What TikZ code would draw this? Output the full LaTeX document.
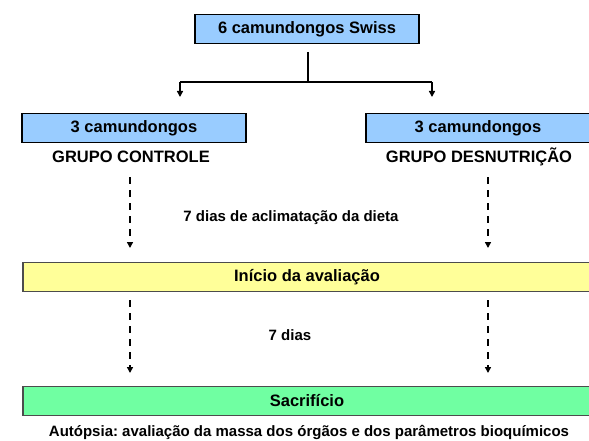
\documentclass[tikz,border=0pt]{standalone}
\usepackage{fontspec}
\setmainfont{Liberation Sans}
\usetikzlibrary{arrows.meta}
\definecolor{myblue}{RGB}{153,204,255}
\definecolor{myyellow}{RGB}{255,255,153}
\definecolor{mygreen}{RGB}{112,255,162}
\frenchspacing

\tikzset{
    box/.style={draw=black, line width=1.1pt, minimum height=29pt, inner sep=0pt,
        font=\fontsize{16.5}{20}\selectfont\bfseries},
    grouplabel/.style={anchor=center, color=black, font=\fontsize{16.5}{20}\selectfont\bfseries},
    note/.style={anchor=center, color=black, font=\fontsize{15}{18}\selectfont\bfseries},
    link/.style={line width=2pt},
    linkarrow/.style={line width=2pt, -{Triangle[length=6pt,width=6pt]}},
    dashlink/.style={line width=2pt, dash pattern=on 6.5pt off 6.5pt, -{Triangle[length=6pt,width=6pt]}},
}

\begin{document}
\begin{tikzpicture}[x=1pt, y=-1pt]
    \useasboundingbox (0,0) rectangle (589,441);

    % Top box
    \node[box, fill=myblue, minimum width=224pt] (mice) at (307, 29) {6 camundongos Swiss};

    % Split into the two groups
    \coordinate (stem) at (308, 52);
    \coordinate (split) at (308, 82);
    \coordinate (splitL) at (180, 82);
    \coordinate (splitR) at (432, 82);
    \coordinate (tipL) at (180, 97);
    \coordinate (tipR) at (432, 97);
    \draw[link] (stem) -- (split);
    \draw[link] (splitL) -- (splitR);
    \draw[linkarrow] (splitL) -- (tipL);
    \draw[linkarrow] (splitR) -- (tipR);

    % Groups
    \node[box, fill=myblue, minimum width=224pt] (ctrl) at (134, 128) {3 camundongos};
    \node[box, fill=myblue, minimum width=224pt] (desn) at (478, 128) {3 camundongos};
    \node[grouplabel] (ctrlname) at (131, 157) {GRUPO CONTROLE};
    \node[grouplabel] (desnname) at (479, 157) {GRUPO DESNUTRIÇÃO};

    % Acclimatation week
    \coordinate (accL) at (130, 177);
    \coordinate (accLend) at (130, 248);
    \coordinate (accR) at (488, 177);
    \coordinate (accRend) at (488, 248);
    \draw[dashlink] (accL) -- (accLend);
    \draw[dashlink] (accR) -- (accRend);
    \node[note] (acc) at (291, 218) {7 dias de aclimatação da dieta};

    % Start of the evaluation
    \node[box, draw=black!70, fill=myyellow, minimum width=568pt] (start) at (307, 277) {Início da avaliação};

    % Evaluation week
    \coordinate (evL) at (130, 300);
    \coordinate (evLend) at (130, 373);
    \coordinate (evR) at (488, 300);
    \coordinate (evRend) at (488, 373);
    \draw[dashlink] (evL) -- (evLend);
    \draw[dashlink] (evR) -- (evRend);
    \node[note] (week) at (290, 335) {7 dias};

    % End
    \node[box, draw=black!70, fill=mygreen, minimum width=568pt] (end) at (307, 401) {Sacrifício};
    \node[note] (autopsy) at (309, 432) {Autópsia: avaliação da massa dos órgãos e dos parâmetros bioquímicos};
\end{tikzpicture}
\end{document}
